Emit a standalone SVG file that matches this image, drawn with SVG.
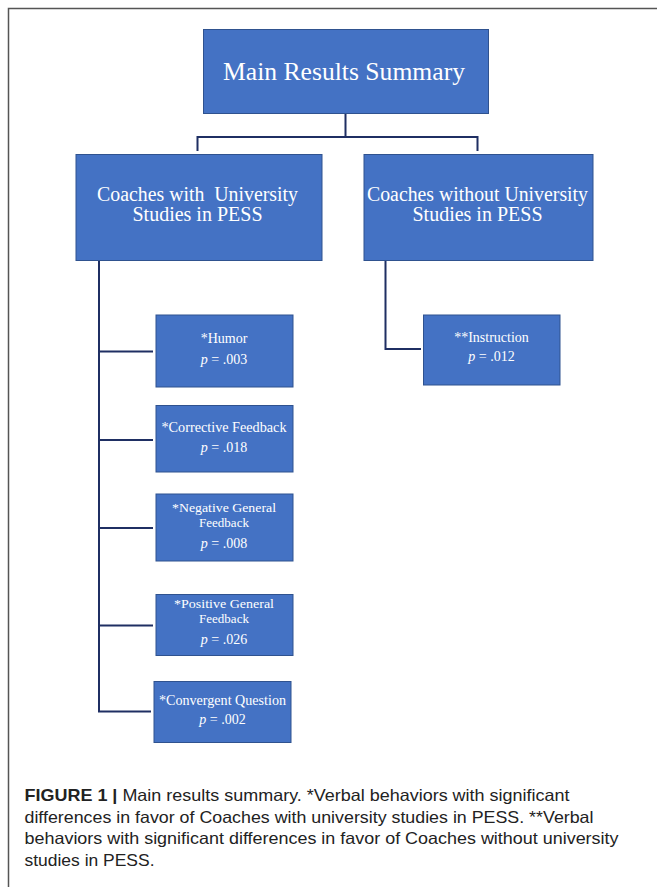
<svg xmlns="http://www.w3.org/2000/svg" width="657" height="887" viewBox="0 0 657 887">
<style>
.box{fill:#4472C4;stroke:#2F528F;stroke-width:1}
.t{font-family:"Liberation Serif","Times New Roman",serif;fill:#ffffff;text-anchor:middle}
.big{font-size:26px}
.mid{font-size:20px}
.sm{font-size:14px}
.xs{font-size:13px}
.conn{fill:none;stroke:#1F2F63;stroke-width:2}
.cap{font-family:"Liberation Sans",Arial,sans-serif;font-size:16.5px;fill:#222222}
</style>
<rect x="8.5" y="8.5" width="700" height="900" fill="#ffffff" stroke="#555555" stroke-width="1.5"/>
<g id="connectors">
<path class="conn" d="M345.5 113V137M197.5 151V137H477.5V151"/>
<path class="conn" d="M99 261V711.5H151M99 351.5H153M99 440H153M99 528H153M99 625.5H153"/>
<path class="conn" d="M385.5 261V349H421"/>
</g>
<g id="main">
<rect class="box" x="203.5" y="29.5" width="285" height="84"/>
<text class="t big" x="344" y="80" textLength="242" lengthAdjust="spacingAndGlyphs">Main Results Summary</text>
</g>
<g id="with">
<rect class="box" x="76" y="154.5" width="246" height="106"/>
<text class="t mid" x="197.5" y="201" style="white-space:pre" textLength="201" lengthAdjust="spacingAndGlyphs">Coaches with  University</text>
<text class="t mid" x="197.5" y="221">Studies in PESS</text>
</g>
<g id="without">
<rect class="box" x="364" y="154.5" width="229" height="106"/>
<text class="t mid" x="477.5" y="201" textLength="221" lengthAdjust="spacingAndGlyphs">Coaches without University</text>
<text class="t mid" x="477.5" y="221">Studies in PESS</text>
</g>
<g id="humor">
<rect class="box" x="156" y="315" width="137" height="72"/>
<text class="t sm" x="224" y="343">*Humor</text>
<text class="t sm" x="224" y="364"><tspan font-style="italic">p</tspan> = .003</text>
</g>
<g id="corrective">
<rect class="box" x="156" y="405.5" width="137" height="66.5"/>
<text class="t sm" x="224" y="431.5" textLength="125" lengthAdjust="spacingAndGlyphs">*Corrective Feedback</text>
<text class="t sm" x="224" y="451.5"><tspan font-style="italic">p</tspan> = .018</text>
</g>
<g id="negative">
<rect class="box" x="156" y="494" width="137" height="67"/>
<text class="t xs" x="224" y="512" textLength="104" lengthAdjust="spacingAndGlyphs">*Negative General</text>
<text class="t xs" x="224" y="526.5">Feedback</text>
<text class="t sm" x="224" y="548"><tspan font-style="italic">p</tspan> = .008</text>
</g>
<g id="positive">
<rect class="box" x="156" y="594.5" width="137" height="61"/>
<text class="t xs" x="224" y="608" textLength="100" lengthAdjust="spacingAndGlyphs">*Positive General</text>
<text class="t xs" x="224" y="622.5">Feedback</text>
<text class="t sm" x="224" y="644"><tspan font-style="italic">p</tspan> = .026</text>
</g>
<g id="convergent">
<rect class="box" x="154" y="681.5" width="137" height="61"/>
<text class="t sm" x="222.5" y="705" textLength="127" lengthAdjust="spacingAndGlyphs">*Convergent Question</text>
<text class="t sm" x="222.5" y="723.5"><tspan font-style="italic">p</tspan> = .002</text>
</g>
<g id="instruction">
<rect class="box" x="423.5" y="315" width="136.5" height="70"/>
<text class="t sm" x="491.5" y="341.5">**Instruction</text>
<text class="t sm" x="491.5" y="361"><tspan font-style="italic">p</tspan> = .012</text>
</g>
<g id="caption">
<text class="cap" x="24.5" y="800.5" textLength="545" lengthAdjust="spacingAndGlyphs"><tspan font-weight="bold">FIGURE 1 |</tspan> Main results summary. *Verbal behaviors with significant</text>
<text class="cap" x="24.5" y="822.5" textLength="569" lengthAdjust="spacingAndGlyphs">differences in favor of Coaches with university studies in PESS. **Verbal</text>
<text class="cap" x="24.5" y="844" textLength="594" lengthAdjust="spacingAndGlyphs">behaviors with significant differences in favor of Coaches without university</text>
<text class="cap" x="24.5" y="865.5" textLength="130" lengthAdjust="spacingAndGlyphs">studies in PESS.</text>
</g>
</svg>
